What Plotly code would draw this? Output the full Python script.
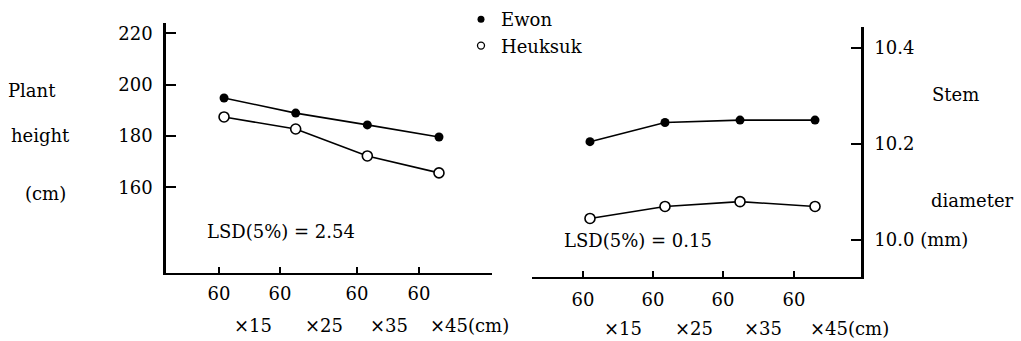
import plotly.graph_objects as go

# ---------------- data ----------------
spacing_row1 = ["60", "60", "60", "60"]
spacing_row2 = ["×15", "×25", "×35", "×45(cm)"]

height_ewon = [194.8, 188.9, 184.3, 179.6]
height_heuksuk = [187.4, 182.7, 172.2, 165.6]

stem_ewon = [10.205, 10.245, 10.25, 10.25]
stem_heuksuk = [10.045, 10.07, 10.08, 10.07]

height_ticks = [160, 180, 200, 220]
stem_ticks = [10.0, 10.2, 10.4]
stem_ticktext = ["10.0 (mm)", "10.2", "10.4"]

lsd_height = "LSD(5%) = 2.54"
lsd_stem = "LSD(5%) = 0.15"

series_names = ["Ewon", "Heuksuk"]

# ---------------- layout helpers ----------------
W, H = 1021, 341
FONT = "DejaVu Serif"
FS = 18


def px(x):
    return x / W


def py(y):
    return 1 - y / H


pos = list(range(1, len(spacing_row1) + 1))

fig = go.Figure()

line_style = dict(color="black", width=1.6)
filled = dict(symbol="circle", size=9, color="black")
hollow = dict(symbol="circle", size=10, color="white", line=dict(width=1.6, color="black"))

fig.add_trace(go.Scatter(x=pos, y=height_ewon, mode="lines+markers", line=line_style,
                         marker=filled, xaxis="x", yaxis="y", showlegend=False))
fig.add_trace(go.Scatter(x=pos, y=height_heuksuk, mode="lines+markers", line=line_style,
                         marker=hollow, xaxis="x", yaxis="y", showlegend=False))
fig.add_trace(go.Scatter(x=pos, y=stem_ewon, mode="lines+markers", line=line_style,
                         marker=filled, xaxis="x2", yaxis="y2", showlegend=False))
fig.add_trace(go.Scatter(x=pos, y=stem_heuksuk, mode="lines+markers", line=line_style,
                         marker=hollow, xaxis="x2", yaxis="y2", showlegend=False))

# legend-only entries (markers only, as in the original key)
fig.add_trace(go.Scatter(x=[None], y=[None], mode="markers", name=series_names[0],
                         marker=dict(symbol="circle", size=7, color="black"),
                         xaxis="x", yaxis="y"))
fig.add_trace(go.Scatter(x=[None], y=[None], mode="markers", name=series_names[1],
                         marker=dict(symbol="circle-open", size=7, color="black",
                                     line=dict(width=1.3, color="black")),
                         xaxis="x", yaxis="y"))

axis_common = dict(showgrid=False, zeroline=False, showline=True, linecolor="black",
                   tickcolor="black", ticks="inside",
                   tickfont=dict(family=FONT, size=FS, color="black"))

fig.update_layout(
    width=W, height=H,
    margin=dict(l=0, r=0, t=0, b=0),
    paper_bgcolor="white", plot_bgcolor="white",
    font=dict(family=FONT, size=FS, color="black"),
    xaxis=dict(domain=[px(166), px(492)], range=[0.19, 4.74], anchor="y",
               tickvals=[0.93, 1.78, 2.855, 3.72], ticktext=spacing_row1,
               ticklen=6, tickwidth=1.5, linewidth=2, ticklabelstandoff=3, **axis_common),
    yaxis=dict(domain=[py(273), py(23)], range=[126.6, 224.0], anchor="x",
               tickvals=height_ticks, ticktext=[str(t) for t in height_ticks],
               ticklen=10, tickwidth=1.5, linewidth=2.5, ticklabelstandoff=7, **axis_common),
    xaxis2=dict(domain=[px(532), px(861)], range=[0.227, 4.613], anchor="y2",
                tickvals=[0.907, 1.84, 2.773, 3.72], ticktext=spacing_row1,
                ticklen=6, tickwidth=1.5, linewidth=2, ticklabelstandoff=5, **axis_common),
    yaxis2=dict(domain=[py(277), py(27)], range=[9.923, 10.444], anchor="x2", side="right",
                tickvals=stem_ticks, ticktext=stem_ticktext,
                ticklen=10, tickwidth=1.5, linewidth=2.5, ticklabelstandoff=7, **axis_common),
    legend=dict(x=px(461), y=py(1), xanchor="left", yanchor="top",
                bgcolor="rgba(0,0,0,0)", borderwidth=0, tracegroupgap=0,
                font=dict(family=FONT, size=FS, color="black")),
    showlegend=True,
)

ann = []


def text(x, y, s, xanchor="center", xref="paper"):
    ann.append(dict(x=x, y=py(y), xref=xref, yref="paper", text=s, showarrow=False,
                    xanchor=xanchor, yanchor="middle",
                    font=dict(family=FONT, size=FS, color="black")))


# left axis title
text(px(32), 90, "Plant")
text(px(40), 135, "height")
text(px(45), 193, "(cm)")
# right axis title
text(px(955), 95, "Stem")
text(px(972), 200, "diameter")
# LSD notes
text(px(205), 232, lsd_height, xanchor="left")
text(px(562), 240, lsd_stem, xanchor="left")

# second row of category labels
left_offsets = [0.11, 0.10, 0.01, -0.15]
right_offsets = [0.16, 0.11, 0.03, -0.09]
for i, lab in enumerate(spacing_row2):
    text(pos[i] + left_offsets[i], 325, lab, xanchor="left", xref="x")
    text(pos[i] + right_offsets[i], 328, lab, xanchor="left", xref="x2")

fig.update_layout(annotations=ann)

fig.write_html("out.html", config={"displayModeBar": False},
               post_script="document.body.style.margin='0px';")
